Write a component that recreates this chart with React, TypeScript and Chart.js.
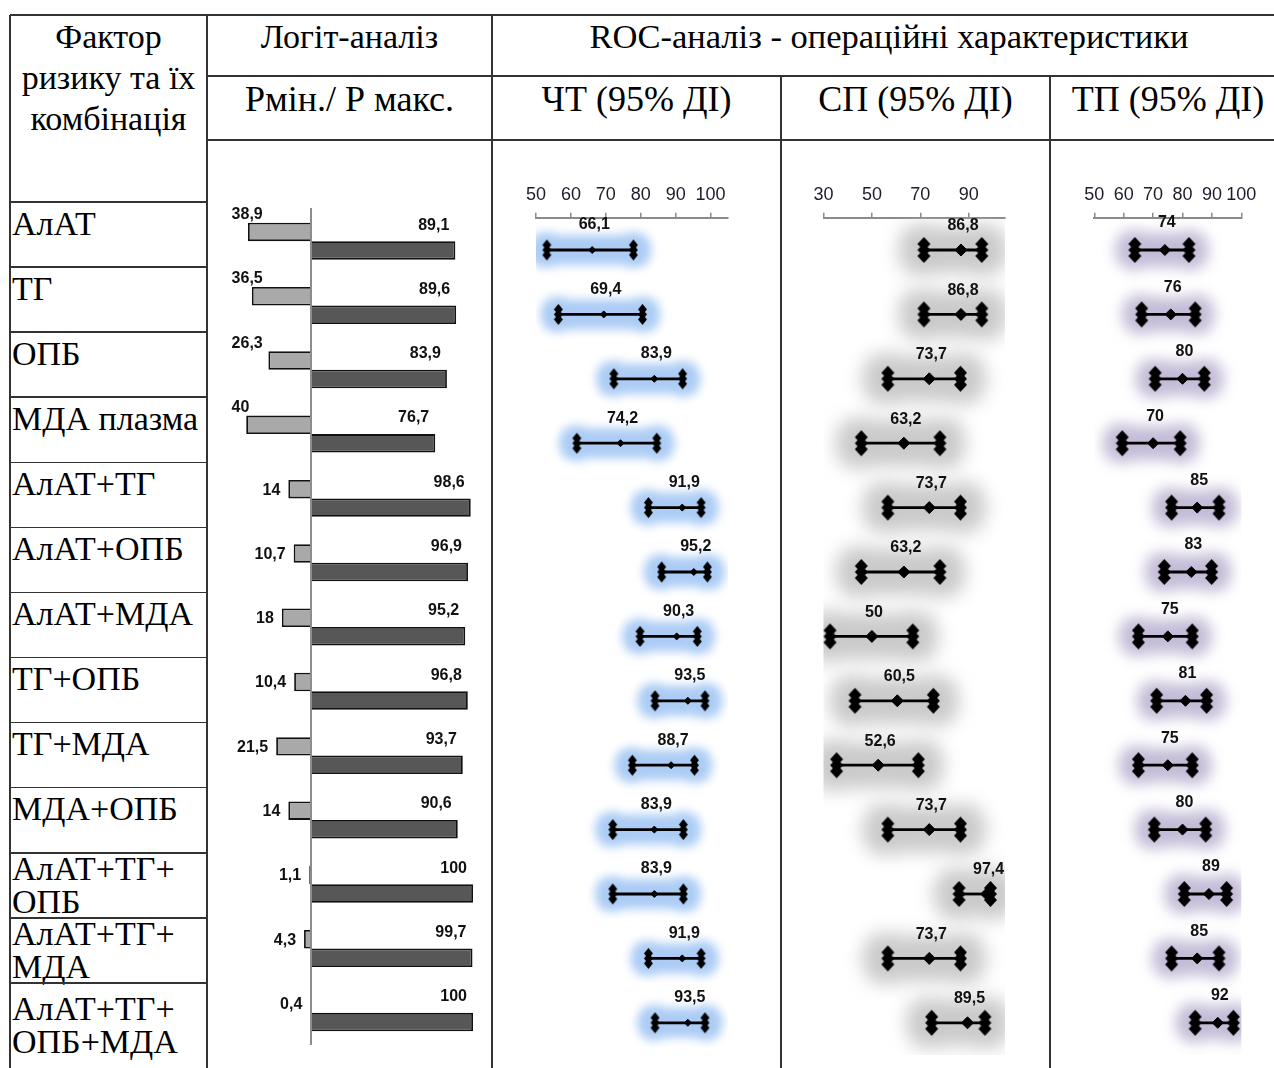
import React, { useEffect, useRef } from 'react';
import { Chart, registerables } from 'chart.js';

Chart.register(...registerables);

// ---------------- DATA ----------------
const categories = [
  'АлАТ',
  'ТГ',
  'ОПБ',
  'МДА плазма',
  'АлАТ+ТГ',
  'АлАТ+ОПБ',
  'АлАТ+МДА',
  'ТГ+ОПБ',
  'ТГ+МДА',
  'МДА+ОПБ',
  'АлАТ+ТГ+\nОПБ',
  'АлАТ+ТГ+\nМДА',
  'АлАТ+ТГ+\nОПБ+МДА',
];

const pMin = [38.9, 36.5, 26.3, 40, 14, 10.7, 18, 10.4, 21.5, 14, 1.1, 4.3, 0.4];
const pMax = [89.1, 89.6, 83.9, 76.7, 98.6, 96.9, 95.2, 96.8, 93.7, 90.6, 100, 99.7, 100];

const chtValue = [66.1, 69.4, 83.9, 74.2, 91.9, 95.2, 90.3, 93.5, 88.7, 83.9, 83.9, 91.9, 93.5];
const chtLow = [53.1, 56.4, 72.3, 61.7, 82.2, 86.0, 79.8, 84.1, 77.6, 72.0, 72.0, 82.2, 84.1];
const chtHigh = [77.9, 80.5, 92.0, 84.6, 97.3, 99.1, 96.2, 98.4, 95.4, 92.2, 92.2, 97.3, 98.4];

const spValue = [86.8, 86.8, 73.7, 63.2, 73.7, 63.2, 50, 60.5, 52.6, 73.7, 97.4, 73.7, 89.5];
const spLow = [71.5, 71.5, 56.6, 45.6, 56.6, 45.6, 32.7, 43.0, 35.4, 56.6, 86.0, 56.6, 74.7];
const spHigh = [95.4, 95.4, 86.6, 78.1, 86.6, 78.1, 66.9, 75.4, 69.2, 86.6, 99.0, 86.6, 96.7];

const tpValue = [74, 76, 80, 70, 85, 83, 75, 81, 75, 80, 89, 85, 92];
const tpLow = [63.8, 66.1, 70.7, 59.5, 76.3, 73.8, 65.0, 71.2, 65.0, 70.4, 80.6, 76.3, 84.3];
const tpHigh = [82.2, 84.3, 87.4, 79.2, 92.4, 89.9, 83.3, 88.2, 83.3, 87.9, 95.0, 92.4, 97.3];

const chtTicks = [50, 60, 70, 80, 90, 100];
const spTicks = [30, 50, 70, 90];
const tpTicks = [50, 60, 70, 80, 90, 100];

// ---------------- HELPERS ----------------
const fmt = (v: number) => String(v).replace('.', ',');
const SANS = '"Liberation Sans", Arial, sans-serif';
const SERIF = '"Liberation Serif", "Times New Roman", serif';
const LINE = '#333';

function makeCap(halfW: number, halfH: number, count: number, step: number) {
  const c = document.createElement('canvas');
  const w = Math.ceil(halfW * 2) + 2;
  const h = Math.ceil((count - 1) * step + halfH * 2) + 2;
  c.width = w;
  c.height = h;
  const g = c.getContext('2d')!;
  g.fillStyle = '#000';
  for (let k = 0; k < count; k++) {
    const cy = h / 2 + (k - (count - 1) / 2) * step;
    g.beginPath();
    g.moveTo(w / 2, cy - halfH);
    g.lineTo(w / 2 + halfW, cy);
    g.lineTo(w / 2, cy + halfH);
    g.lineTo(w / 2 - halfW, cy);
    g.closePath();
    g.fill();
  }
  g.fillRect(w / 2 - halfW * 0.55, h / 2 - ((count - 1) * step) / 2 - halfH * 0.4, halfW * 1.1, (count - 1) * step + halfH * 0.8);
  return c;
}

// ---------------- LOGIT BAR CHART ----------------
function LogitChart() {
  const ref = useRef<HTMLCanvasElement>(null);
  const box = { left: 208, top: 141, width: 283, height: 926 };
  const area = { left: 213.8, right: 473, top: 209, bottom: 1045 };

  useEffect(() => {
    const zeroLine = {
      id: 'zeroLine',
      afterDatasetsDraw(chart: any) {
        const { ctx, chartArea } = chart;
        const x = chart.scales.x.getPixelForValue(0);
        ctx.save();
        ctx.strokeStyle = '#8c8c8c';
        ctx.lineWidth = 2;
        ctx.beginPath();
        ctx.moveTo(x, chartArea.top - 1);
        ctx.lineTo(x, chartArea.bottom);
        ctx.stroke();
        ctx.restore();
      },
    };
    const barLabels = {
      id: 'barLabels',
      afterDatasetsDraw(chart: any) {
        const { ctx } = chart;
        ctx.save();
        ctx.font = `bold 16px ${SANS}`;
        ctx.fillStyle = '#111';
        ctx.textBaseline = 'middle';
        const minPos = chart.scales.x.getPixelForValue(-49);
        chart.getDatasetMeta(0).data.forEach((el: any, i: number) => {
          const v = pMin[i];
          if (v >= 25) {
            ctx.textAlign = 'left';
            ctx.fillText(fmt(v), Math.min(minPos, el.x - 12), el.y - el.height / 2 - 8);
          } else {
            ctx.textAlign = 'right';
            ctx.fillText(fmt(v), Math.min(el.x, el.base) - 8, el.y + 1);
          }
        });
        chart.getDatasetMeta(1).data.forEach((el: any, i: number) => {
          ctx.textAlign = 'right';
          ctx.fillText(fmt(pMax[i]), el.x - 6, el.y - el.height / 2 - 16);
        });
        ctx.restore();
      },
    };
    const chart = new Chart(ref.current!, {
      type: 'bar',
      data: {
        labels: categories,
        datasets: [
          {
            data: pMin.map((v) => -v),
            backgroundColor: '#a9a9a9',
            borderColor: '#111',
            borderWidth: 1.8,
            categoryPercentage: 0.575,
            barPercentage: 1,
          },
          {
            data: pMax,
            backgroundColor: '#575757',
            borderColor: '#111',
            borderWidth: 1.8,
            categoryPercentage: 0.575,
            barPercentage: 1,
          },
        ],
      },
      options: {
        indexAxis: 'y',
        animation: false,
        responsive: false,
        events: [],
        layout: {
          autoPadding: false,
          padding: {
            left: area.left - box.left,
            right: box.left + box.width - area.right,
            top: area.top - box.top,
            bottom: box.top + box.height - area.bottom,
          },
        },
        plugins: { legend: { display: false }, tooltip: { enabled: false } },
        scales: {
          x: { type: 'linear', display: false, min: -60, max: 100 },
          y: { display: false },
        },
      } as any,
      plugins: [zeroLine, barLabels],
    });
    return () => chart.destroy();
  }, []);

  return (
    <canvas
      ref={ref}
      width={box.width}
      height={box.height}
      style={{ position: 'absolute', left: box.left, top: box.top, width: box.width, height: box.height }}
    />
  );
}

// ---------------- ROC INTERVAL CHART ----------------
type RocProps = {
  values: number[];
  lows: number[];
  highs: number[];
  ticks: number[];
  min: number;
  max: number;
  box: { left: number; top: number; width: number; height: number };
  area: { left: number; right: number; top: number; bottom: number };
  glow: { color: string; blur: number; padX: number; halfH: number; r: number };
  cap: { halfW: number; halfH: number; count: number; step: number };
  centerRadius: number;
  labelOffset: number;
};

function RocChart(p: RocProps) {
  const ref = useRef<HTMLCanvasElement>(null);
  useEffect(() => {
    const capImg = makeCap(p.cap.halfW, p.cap.halfH, p.cap.count, p.cap.step);
    const glowPlugin = {
      id: 'rocGlow',
      beforeDatasetsDraw(chart: any) {
        const { ctx, chartArea: a } = chart;
        const xs = chart.scales.x;
        const ys = chart.scales.y;
        ctx.save();
        ctx.beginPath();
        ctx.rect(a.left, a.top, a.right - a.left, a.bottom - a.top);
        ctx.clip();
        ctx.filter = `blur(${p.glow.blur}px)`;
        ctx.fillStyle = p.glow.color;
        p.values.forEach((_, i) => {
          const x1 = xs.getPixelForValue(p.lows[i]);
          const x2 = xs.getPixelForValue(p.highs[i]);
          const py = ys.getPixelForValue(i);
          ctx.beginPath();
          ctx.rect(x1 - p.glow.padX, py - p.glow.halfH, x2 - x1 + 2 * p.glow.padX, 2 * p.glow.halfH);
          ctx.moveTo(x1 + p.glow.r, py);
          ctx.arc(x1, py, p.glow.r, 0, Math.PI * 2);
          ctx.moveTo(x2 + p.glow.r, py);
          ctx.arc(x2, py, p.glow.r, 0, Math.PI * 2);
          ctx.fill();
        });
        ctx.restore();
        ctx.save();
        ctx.strokeStyle = '#000';
        ctx.lineWidth = 2.8;
        p.values.forEach((_, i) => {
          const x1 = xs.getPixelForValue(p.lows[i]);
          const x2 = xs.getPixelForValue(p.highs[i]);
          const py = ys.getPixelForValue(i);
          ctx.beginPath();
          ctx.moveTo(x1, py);
          ctx.lineTo(x2, py);
          ctx.stroke();
        });
        ctx.restore();
      },
    };
    const labelPlugin = {
      id: 'rocLabels',
      afterDatasetsDraw(chart: any) {
        const { ctx } = chart;
        const xs = chart.scales.x;
        const ys = chart.scales.y;
        ctx.save();
        ctx.font = `bold 16px ${SANS}`;
        ctx.fillStyle = '#111';
        ctx.textAlign = 'center';
        ctx.textBaseline = 'middle';
        p.values.forEach((v, i) => {
          ctx.fillText(fmt(v), xs.getPixelForValue(v) + 2, ys.getPixelForValue(i) - p.labelOffset);
        });
        ctx.restore();
      },
    };
    const axisHeight = p.area.top - p.box.top;
    const chart = new Chart(ref.current!, {
      type: 'scatter',
      data: {
        datasets: [
          {
            data: p.lows.map((v, i) => ({ x: v, y: i })),
            pointStyle: capImg,
            pointRadius: 6,
            clip: false,
          },
          {
            data: p.highs.map((v, i) => ({ x: v, y: i })),
            pointStyle: capImg,
            pointRadius: 6,
            clip: false,
          },
          {
            data: p.values.map((v, i) => ({ x: v, y: i })),
            pointStyle: 'rectRot',
            pointRadius: p.centerRadius,
            backgroundColor: '#000',
            borderColor: '#000',
            borderWidth: 1,
            clip: false,
          },
        ],
      },
      options: {
        animation: false,
        responsive: false,
        events: [],
        layout: {
          autoPadding: false,
          padding: {
            left: p.area.left - p.box.left,
            right: p.box.left + p.box.width - p.area.right,
            top: 0,
            bottom: p.box.top + p.box.height - p.area.bottom,
          },
        },
        plugins: { legend: { display: false }, tooltip: { enabled: false } },
        scales: {
          x: {
            type: 'linear',
            position: 'top',
            min: p.min,
            max: p.max,
            afterBuildTicks: (axis: any) => {
              axis.ticks = p.ticks.map((v) => ({ value: v }));
            },
            afterFit: (axis: any) => {
              axis.height = axisHeight;
            },
            grid: { drawOnChartArea: false, drawTicks: true, tickLength: 5, color: '#8a8a8a', lineWidth: 1.5 },
            border: { display: true, color: '#8a8a8a', width: 2 },
            ticks: {
              padding: 7,
              autoSkip: false,
              maxRotation: 0,
              color: '#1c1c2a',
              font: { family: '"Liberation Sans Narrow", "Liberation Sans", Arial, sans-serif', size: 18 },
            },
          },
          y: { type: 'linear', display: false, min: -0.5, max: 12.5, reverse: true },
        },
      } as any,
      plugins: [glowPlugin, labelPlugin],
    });
    return () => chart.destroy();
  }, []);

  return (
    <canvas
      ref={ref}
      width={p.box.width}
      height={p.box.height}
      style={{ position: 'absolute', left: p.box.left, top: p.box.top, width: p.box.width, height: p.box.height }}
    />
  );
}

// ---------------- TABLE ----------------
function HLine({ x1, x2, y }: { x1: number; x2: number; y: number }) {
  return <div style={{ position: 'absolute', left: x1, top: y - 0.75, width: x2 - x1, height: 1.5, background: LINE }} />;
}
function VLine({ x, y1, y2 }: { x: number; y1: number; y2: number }) {
  return <div style={{ position: 'absolute', left: x - 0.75, top: y1, width: 1.5, height: y2 - y1, background: LINE }} />;
}

function HeaderText({ x1, x2, top, children, size = 34, lh = 41 }: any) {
  return (
    <div
      style={{
        position: 'absolute',
        left: x1,
        width: x2 - x1,
        top,
        textAlign: 'center',
        fontFamily: SERIF,
        fontSize: size,
        lineHeight: `${lh}px`,
        color: '#000',
        whiteSpace: 'nowrap',
      }}
    >
      {children}
    </div>
  );
}

export default function App() {
  const rowTop = (i: number) => 202 + 65.08 * i;
  const rows = categories.map((c, i) => {
    const top = rowTop(i);
    const bottom = i === categories.length - 1 ? 1068 : rowTop(i + 1);
    const lines = c.split('\n').length;
    const lh = 33;
    const textTop = lines > 1 ? top + (bottom - top - lines * lh) / 2 : top + 4.5;
    return (
      <div
        key={c}
        style={{
          position: 'absolute',
          left: 12,
          top: textTop,
          fontFamily: SERIF,
          fontSize: 34,
          lineHeight: `${lh}px`,
          whiteSpace: 'pre',
          color: '#000',
        }}
      >
        {c}
      </div>
    );
  });

  const rowLines = categories.slice(0, -1).map((_, i) => <HLine key={'r' + i} x1={10} x2={207} y={rowTop(i + 1)} />);

  return (
    <div style={{ position: 'absolute', left: 0, top: 0, width: 1274, height: 1068, overflow: 'hidden', background: '#fff' }}>
      <LogitChart />
      <RocChart
        values={chtValue}
        lows={chtLow}
        highs={chtHigh}
        ticks={chtTicks}
        min={50}
        max={105}
        box={{ left: 493, top: 141, width: 287, height: 926 }}
        area={{ left: 536, right: 728, top: 217.8, bottom: 1055 }}
        glow={{ color: 'rgb(172,204,245)', blur: 5, padX: 14, halfH: 15, r: 18 }}
        cap={{ halfW: 4.5, halfH: 5.5, count: 3, step: 5 }}
        centerRadius={3.5}
        labelOffset={25}
      />
      <RocChart
        values={spValue}
        lows={spLow}
        highs={spHigh}
        ticks={spTicks}
        min={30}
        max={105}
        box={{ left: 782, top: 141, width: 267, height: 926 }}
        area={{ left: 823.5, right: 1005, top: 217.8, bottom: 1055 }}
        glow={{ color: 'rgb(202,202,202)', blur: 9, padX: 20, halfH: 23, r: 26 }}
        cap={{ halfW: 6.5, halfH: 7, count: 3, step: 6 }}
        centerRadius={6}
        labelOffset={24}
      />
      <RocChart
        values={tpValue}
        lows={tpLow}
        highs={tpHigh}
        ticks={tpTicks}
        min={50}
        max={100}
        box={{ left: 1051, top: 141, width: 223, height: 926 }}
        area={{ left: 1094.3, right: 1241.3, top: 217.8, bottom: 1055 }}
        glow={{ color: 'rgb(196,188,215)', blur: 7, padX: 15, halfH: 17, r: 20 }}
        cap={{ halfW: 6.5, halfH: 7, count: 3, step: 6 }}
        centerRadius={5.5}
        labelOffset={27}
      />

      {/* header texts */}
      <HeaderText x1={10} x2={207} top={16}>
        Фактор
        <br />
        ризику та їх
        <br />
        комбінація
      </HeaderText>
      <HeaderText x1={207} x2={492} top={16}>Логіт-аналіз</HeaderText>
      <HeaderText x1={207} x2={492} top={79} size={36}>Рмін./ Р макс.</HeaderText>
      <HeaderText x1={492} x2={1286} top={16} size={34.5}>ROC-аналіз - операційні характеристики</HeaderText>
      <HeaderText x1={492} x2={781} top={79} size={36}>ЧТ (95% ДІ)</HeaderText>
      <HeaderText x1={781} x2={1050} top={79} size={36}>СП (95% ДІ)</HeaderText>
      <HeaderText x1={1050} x2={1286} top={79} size={36}>ТП (95% ДІ)</HeaderText>

      {rows}

      {/* table lines */}
      <HLine x1={10} x2={1274} y={15} />
      <HLine x1={207} x2={1274} y={76} />
      <HLine x1={207} x2={1274} y={140} />
      <HLine x1={10} x2={207} y={202} />
      {rowLines}
      <VLine x={10} y1={15} y2={1068} />
      <VLine x={207} y1={15} y2={1068} />
      <VLine x={492} y1={15} y2={1068} />
      <VLine x={781} y1={76} y2={1068} />
      <VLine x={1050} y1={76} y2={1068} />
    </div>
  );
}
